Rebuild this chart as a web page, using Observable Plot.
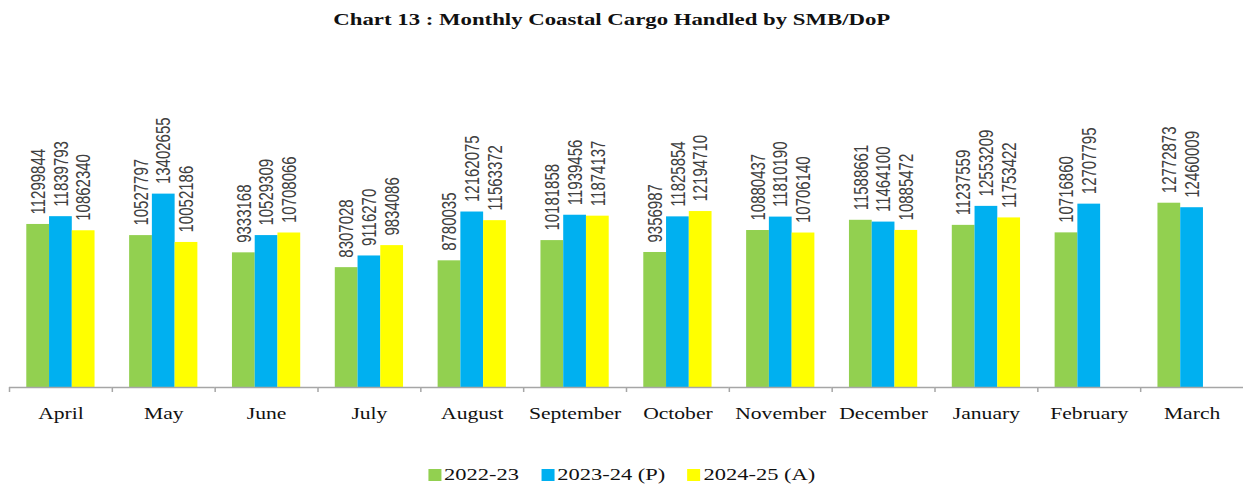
<!DOCTYPE html>
<html><head><meta charset="utf-8">
<script src="https://cdn.jsdelivr.net/npm/d3@7"></script>
<script src="https://cdn.jsdelivr.net/npm/@observablehq/plot@0.6"></script>
<style>
body{margin:0;background:#fff;width:1243px;height:485px;overflow:hidden;}
#title{height:40px;display:flex;align-items:center;justify-content:center;padding-right:20px;box-sizing:border-box;}
#title span{display:inline-block;font-weight:bold;font-size:17px;font-family:"Liberation Serif",serif;color:#111;transform:scaleX(1.34);}
#chart svg{display:block;}
#legendwrap{height:45px;display:flex;justify-content:center;}
#legend{display:flex;align-items:center;padding-top:25px;height:20px;transform:scaleX(1.3);transform-origin:center top;font-family:"Liberation Serif",serif;font-size:17.3px;color:#111;}
.item{display:flex;align-items:center;margin:0 8.5px;}
.sw{width:10px;height:12px;margin-right:2.5px;}
</style></head>
<body>
<div id="title"><span>Chart 13 : Monthly Coastal Cargo Handled by SMB/DoP</span></div>
<div id="chart"></div>
<div id="legendwrap"><div id="legend"></div></div>
<script>
const months = ["April","May","June","July","August","September","October","November","December","January","February","March"];
const seriesNames = ["2022-23","2023-24 (P)","2024-25 (A)"];
const colors = ["#92D050","#00B0F0","#FFFF00"];
const s2022 = [11299844,10527797,9333168,8307028,8780035,10181858,9356987,10880437,11588661,11237559,10716860,12772873];
const s2023 = [11839793,13402655,10529309,9116270,12162075,11939456,11825854,11810190,11464100,12553209,12707795,12460009];
const s2024 = [10862340,10052186,10708066,9834086,11563372,11874137,12194710,10706140,10885472,11753422,null,null];

const allSeries = [s2022, s2023, s2024];
const rows = [];
months.forEach((m, i) => {
  allSeries.forEach((s, j) => {
    if (s[i] != null) rows.push({month: m, series: seriesNames[j], value: s[i]});
  });
});

const W = 1243, ML = 9, MR = 0;
const bw = (W - ML - MR) / months.length;

const plot = Plot.plot({
  width: W, height: 400,
  marginLeft: ML, marginRight: MR, marginTop: 145, marginBottom: 53,
  fx: {domain: months, paddingInner: 0, paddingOuter: 0, axis: null, round: false, label: null},
  x: {domain: seriesNames, paddingInner: 0, paddingOuter: 0.76, axis: null, round: false},
  y: {domain: [0, 14000000], axis: null},
  color: {domain: seriesNames, range: colors},
  style: {background: "#fff"},
  marks: [
    Plot.barY(rows, {fx: "month", x: "series", y: "value", fill: "series"}),
    Plot.ruleY([0], {stroke: "#a6a6a6", strokeWidth: 1.5}),
    Plot.axisFx({anchor: "bottom", tickSize: 5, tickFormat: () => "", label: null, dx: -bw / 2, stroke: "#a6a6a6", strokeWidth: 1.5}),
    Plot.axisFx({anchor: "bottom", tickSize: 0, tickPadding: 19, label: null, fontSize: 17, fontFamily: "Liberation Serif", fill: "#111", className: "mlabel"}),
    Plot.text(rows, {fx: "month", x: "series", y: "value", text: d => String(d.value),
      rotate: -90, textAnchor: "start", dy: -10, fontSize: 15, fontFamily: "Liberation Sans",
      fill: "#404040", className: "vlabel"})
  ]
});
document.getElementById("chart").appendChild(plot);

function stretch(t, sx, sy) {
  let tr = t.getAttribute("transform");
  if (!tr) {
    const x = parseFloat(t.getAttribute("x")) || 0;
    t.setAttribute("x", 0);
    tr = `translate(${x},0)`;
  }
  t.setAttribute("transform", `${tr} scale(${sx},${sy})`);
}
plot.querySelectorAll(".vlabel text").forEach(t => stretch(t, 1, 1.4));
const mtexts = new Set([...plot.querySelectorAll(".mlabel text"), ...plot.querySelectorAll('g[aria-label="fx-axis tick label"] text')]);
mtexts.forEach(t => { if (t.textContent) stretch(t, 1.27, 1); });

const legend = document.getElementById("legend");
seriesNames.forEach((n, i) => {
  const it = document.createElement("div"); it.className = "item";
  const sw = document.createElement("div"); sw.className = "sw"; sw.style.background = colors[i];
  const tx = document.createElement("span"); tx.textContent = n;
  it.appendChild(sw); it.appendChild(tx); legend.appendChild(it);
});
</script>
</body></html>
